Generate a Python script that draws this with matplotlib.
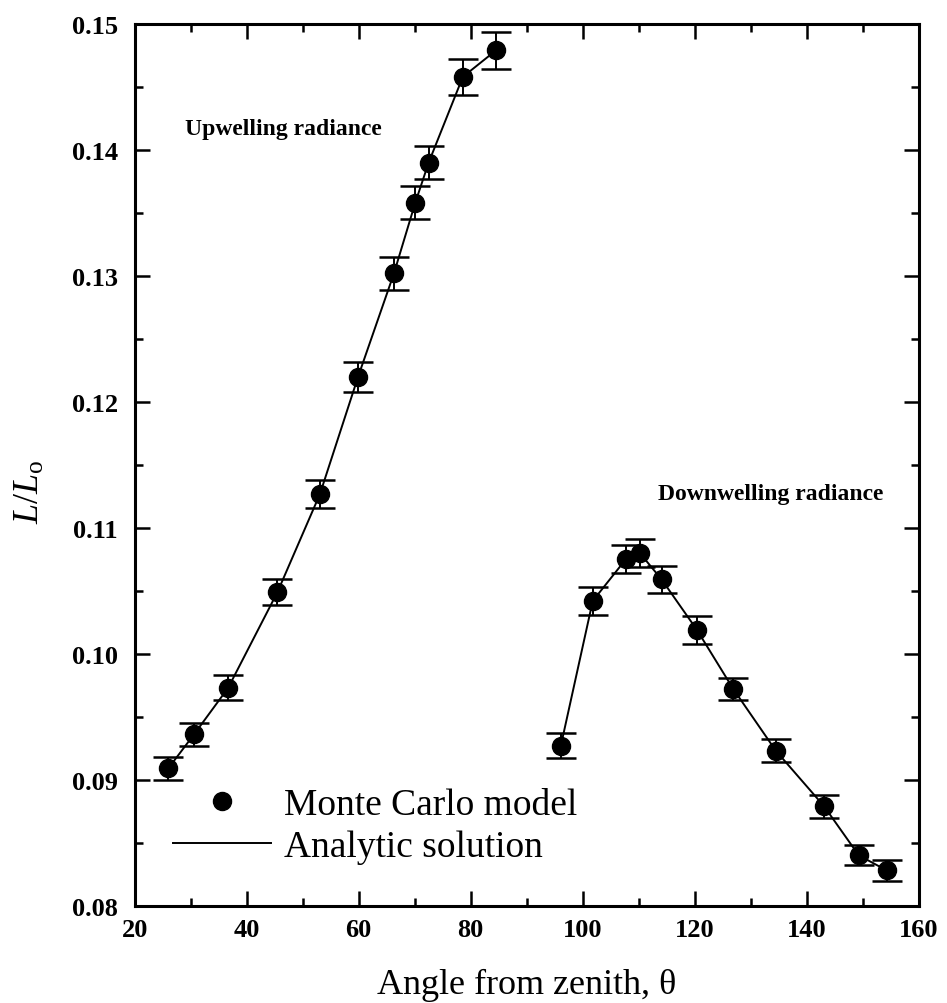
import matplotlib
matplotlib.use("Agg")
import matplotlib.pyplot as plt
from matplotlib.ticker import MultipleLocator

# Radiance ratio versus zenith angle
theta_up = [26.0, 30.6, 36.7, 45.5, 53.1, 59.9, 66.3, 70.1, 72.5, 78.6, 84.5]
L_up = [0.0909, 0.0936, 0.0973, 0.1049, 0.1127, 0.1220, 0.1302, 0.1358,
        0.1390, 0.1458, 0.1479]
err_up = [0.0009, 0.0009, 0.0010, 0.0010, 0.0011, 0.0012, 0.0013, 0.0013,
          0.0013, 0.0014, 0.0015]

theta_dn = [96.1, 101.8, 107.7, 110.2, 114.1, 120.4, 126.9, 134.5, 143.1,
            149.3, 154.3]
L_dn = [0.0927, 0.1042, 0.1075, 0.1080, 0.1059, 0.1019, 0.0972, 0.0923,
        0.0879, 0.0840, 0.0828]
err_dn = [0.0010, 0.0011, 0.0011, 0.0011, 0.0011, 0.0011, 0.0009, 0.0009,
          0.0009, 0.0008, 0.0008]

x_ticks = [20, 40, 60, 80, 100, 120, 140, 160]
y_ticks = [0.08, 0.09, 0.10, 0.11, 0.12, 0.13, 0.14, 0.15]
y_ticklabels = ["0.08", "0.09", "0.10", "0.11", "0.12", "0.13", "0.14", "0.15"]

plt.rcParams["font.family"] = ["Liberation Serif", "DejaVu Serif"]
plt.rcParams["mathtext.fontset"] = "custom"
plt.rcParams["mathtext.rm"] = "Liberation Serif"
plt.rcParams["mathtext.it"] = "Liberation Serif:italic"

fig = plt.figure(figsize=(9.47, 10.04), dpi=100)
ax = fig.add_axes([0.1422, 0.0969, 0.8279, 0.8782])

line_kw = dict(color="black", lw=1.4)
err_kw = dict(fmt="none", ecolor="black", elinewidth=1.4, capsize=11,
              capthick=1.8)
mark_kw = dict(ls="none", marker="o", ms=13, color="black", mec="black")

for th, L, e in [(theta_up, L_up, err_up), (theta_dn, L_dn, err_dn)]:
    ax.plot(th, L, **line_kw)
    ax.errorbar(th, L, yerr=e, **err_kw)
    ax.plot(th, L, **mark_kw)

# legend handles
h_mc, = ax.plot([], [], **mark_kw)
h_an, = ax.plot([], [], **line_kw)
ax.legend([h_mc, h_an], ["Monte Carlo model", "Analytic solution"],
          loc="lower left", bbox_to_anchor=(0.049, 0.047), frameon=False,
          fontsize=27, handlelength=2.6, handletextpad=0.35,
          labelspacing=0.2, borderpad=0, borderaxespad=0)

ax.text(46.6, 0.1417, "Upwelling radiance", fontsize=17, fontweight="bold",
        ha="center", va="center")
ax.text(133.5, 0.1127, "Downwelling radiance", fontsize=17,
        fontweight="bold", ha="center", va="center")

ax.set_xlim(20, 160)
ax.set_ylim(0.08, 0.15)
ax.set_xticks(x_ticks)
ax.set_yticks(y_ticks)
ax.set_yticklabels(y_ticklabels)
ax.xaxis.set_minor_locator(MultipleLocator(10))
ax.yaxis.set_minor_locator(MultipleLocator(0.005))

ax.tick_params(which="both", direction="in", top=True, right=True,
               width=1.8, labelsize=19)
ax.tick_params(which="major", length=11)
ax.tick_params(axis="y", which="major", pad=12)
ax.tick_params(axis="x", which="major", pad=9)
ax.tick_params(which="minor", length=6)
for lab in ax.get_xticklabels() + ax.get_yticklabels():
    lab.set_fontweight("bold")
for sp in ax.spines.values():
    sp.set_linewidth(2.2)

ax.set_xlabel(r"Angle from zenith, $\mathrm{\theta}$", fontsize=26,
              labelpad=17)
ax.set_ylabel(r"$L/L_{\mathrm{o}}$", fontsize=26)
ax.yaxis.set_label_coords(-0.112, 0.47)

fig.savefig("out.png", dpi=100)
